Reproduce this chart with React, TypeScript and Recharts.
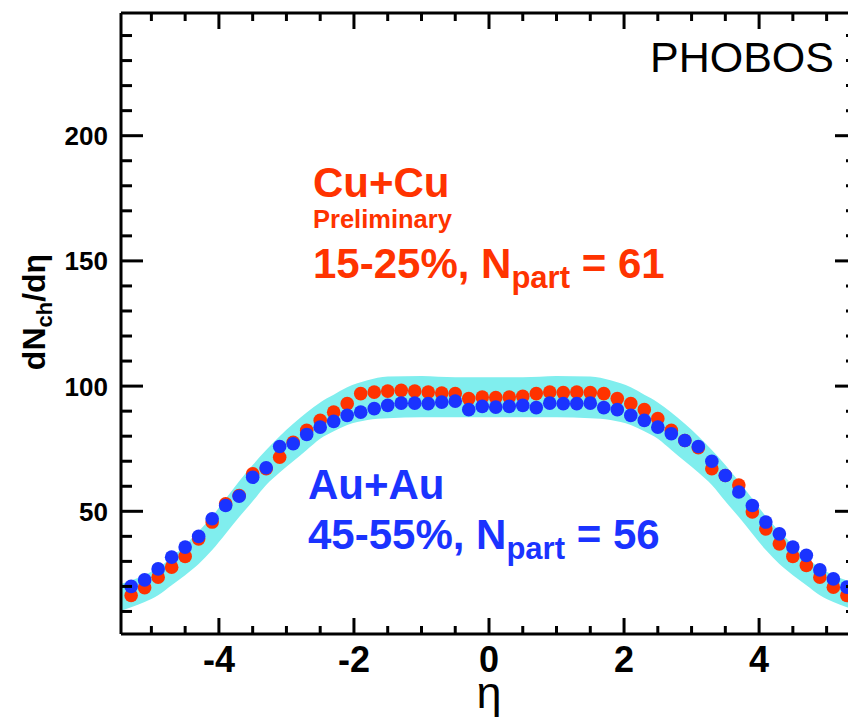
import React from "react";
import { ComposedChart, XAxis, YAxis, Area, Scatter } from "recharts";

const etaValues = [
  -5.3, -5.1, -4.9, -4.7, -4.5, -4.3, -4.1, -3.9, -3.7, -3.5, -3.3, -3.1, -2.9, -2.7,
  -2.5, -2.3, -2.1, -1.9, -1.7, -1.5, -1.3, -1.1, -0.9, -0.7, -0.5, -0.3, -0.1,
  0.1, 0.3, 0.5, 0.7, 0.9, 1.1, 1.3, 1.5, 1.7, 1.9, 2.1, 2.3, 2.5, 2.7, 2.9, 3.1,
  3.3, 3.5, 3.7, 3.9, 4.1, 4.3, 4.5, 4.7, 4.9, 5.1, 5.3,
];

const cuCuValues = [
  16.4, 19.5, 23.7, 27.7, 32, 39, 45.7, 53, 56.3, 65, 67, 71.6, 77.6, 82.3,
  86.3, 89.6, 93, 97, 97.6, 98, 98.3, 98, 97.6, 97.2, 97, 95, 95.6,
  95.4, 95.6, 95.9, 97, 97.6, 97.4, 97.6, 97.4, 97, 95, 93, 90.6, 87, 82.3, 78.3, 75.4,
  67, 64.3, 60.5, 49.7, 43, 37, 32, 28.4, 23.7, 19.7, 16.4,
];

const auAuValues = [
  20, 22.6, 27, 31.7, 35.7, 40, 47, 52.3, 56, 63.6, 67.4, 75.9, 77, 80.7,
  83.6, 85.9, 88.3, 89.6, 91, 92.3, 93.2, 93.2, 93, 93.6, 94, 90.6, 91.9,
  91.6, 91.9, 92.3, 91.4, 93.2, 93, 93, 93.2, 91.4, 90.6, 88.3, 86.3, 83.6, 81, 78.3, 75.9,
  70, 64.3, 57.7, 52.3, 45.7, 41, 35.7, 32.4, 26.6, 23, 19.7,
];

const bandEta = [
  -5.45, -5.3, -5.1, -4.9, -4.7, -4.5, -4.3, -4.1, -3.9, -3.7, -3.5, -3.3, -3.1, -2.9,
  -2.7, -2.5, -2.3, -2.1, -1.8, -1.5, -1.0, -0.5, 0, 0.5, 1.0, 1.5, 1.8, 2.1, 2.3,
  2.5, 2.7, 2.9, 3.1, 3.3, 3.5, 3.7, 3.9, 4.1, 4.3, 4.5, 4.7, 4.9, 5.1, 5.3, 5.45,
];
const bandLow = [
  10.3, 11.7, 13.8, 16.5, 20.5, 24.5, 29, 34.5, 41, 47.7, 54, 60.5, 65.5, 70,
  74.5, 79, 82, 84.5, 86.5, 87.2, 87.6, 87.6, 87.6, 87.6, 87.6, 87.2, 86.5, 84.5, 82,
  79, 74.5, 70, 65.5, 60.5, 54, 47.7, 41, 34.5, 29, 24.5, 20.5, 16.5, 13.8, 11.7, 10.3,
];
const bandHigh = [
  21, 22.4, 24.5, 27.5, 31.5, 36.5, 42, 48, 55, 62, 68.5, 74.5, 80, 85,
  89.5, 93.5, 96.5, 99.5, 102.3, 103.8, 104, 103.5, 103.5, 103.5, 104, 103.8, 102.3, 99.5, 96.5,
  93.5, 89.5, 85, 80, 74.5, 68.5, 62, 55, 48, 42, 36.5, 31.5, 27.5, 24.5, 22.4, 21,
];

const xTicks = [-5, -4.5, -4, -3.5, -3, -2.5, -2, -1.5, -1, -0.5, 0, 0.5, 1, 1.5, 2, 2.5, 3, 3.5, 4, 4.5, 5];
const xTickLabels = [-4, -2, 0, 2, 4];
const yTicks = [10, 20, 30, 40, 50, 60, 70, 80, 90, 100, 110, 120, 130, 140, 150, 160, 170, 180, 190, 200, 210, 220, 230, 240];
const yTickLabels = [50, 100, 150, 200];

const cuData = etaValues.map((e, i) => ({ eta: e, v: cuCuValues[i] }));
const auData = etaValues.map((e, i) => ({ eta: e, v: auAuValues[i] }));
const bandData = bandEta.map((e, i) => ({ eta: e, range: [bandLow[i], bandHigh[i]] }));

const RED = "#ff3300";
const BLUE = "#1a33ff";
const CYAN = "#80eeee";
const FONT = "'Liberation Sans', Arial, sans-serif";

const XTickBottom = (props: any) => {
  const { x, y, payload } = props;
  const v = payload.value;
  const major = xTickLabels.includes(v);
  return (
    <g>
      <line x1={x} x2={x} y1={y} y2={y - (major ? 16 : 8)} stroke="#000" strokeWidth={3} />
      {major && (
        <text x={x} y={y + 38} textAnchor="middle" fontFamily={FONT} fontWeight="bold" fontSize={36} fill="#000">
          {`${v}`}
        </text>
      )}
    </g>
  );
};

const XTickTop = (props: any) => {
  const { x, y, payload } = props;
  const major = xTickLabels.includes(payload.value);
  return <line x1={x} x2={x} y1={y} y2={y + (major ? 16 : 8)} stroke="#000" strokeWidth={3} />;
};

const YTickLeft = (props: any) => {
  const { x, y, payload } = props;
  const v = payload.value;
  const major = yTickLabels.includes(v);
  return (
    <g>
      <line x1={x} x2={x + (major ? 22 : 11)} y1={y} y2={y} stroke="#000" strokeWidth={3} />
      {major && (
        <text x={x - 13} y={y + 9.5} textAnchor="end" fontFamily={FONT} fontWeight="bold" fontSize={26} fill="#000">
          {`${v}`}
        </text>
      )}
    </g>
  );
};

const YTickRight = (props: any) => {
  const { x, y, payload } = props;
  const major = yTickLabels.includes(payload.value);
  return <line x1={x} x2={x - (major ? 22 : 11)} y1={y} y2={y} stroke="#000" strokeWidth={3} />;
};

const makeDot = (color: string) => (props: any) => {
  const { cx, cy } = props;
  return <circle cx={cx} cy={cy} r={6.8} fill={color} />;
};

export default function App() {
  return (
    <div style={{ position: "absolute", left: 0, top: 0, width: 848, height: 718, overflow: "hidden", background: "#fff" }}>
      <ComposedChart width={880} height={718} margin={{ top: 0, right: 0, bottom: 0, left: 0 }}>
        <XAxis
          xAxisId="b"
          dataKey="eta"
          type="number"
          domain={[-5.45, 5.45]}
          allowDataOverflow
          ticks={xTicks}
          interval={0}
          tickSize={0}
          tickMargin={0}
          height={84}
          axisLine={{ stroke: "#000", strokeWidth: 3 }}
          tick={<XTickBottom />}
        />
        <XAxis
          xAxisId="t"
          orientation="top"
          dataKey="eta"
          type="number"
          domain={[-5.45, 5.45]}
          allowDataOverflow
          ticks={xTicks}
          interval={0}
          tickSize={0}
          tickMargin={0}
          height={13}
          axisLine={{ stroke: "#000", strokeWidth: 3 }}
          tick={<XTickTop />}
        />
        <YAxis
          yAxisId="l"
          type="number"
          domain={[1, 249]}
          allowDataOverflow
          ticks={yTicks}
          interval={0}
          tickSize={0}
          tickMargin={0}
          width={121}
          axisLine={{ stroke: "#000", strokeWidth: 3 }}
          tick={<YTickLeft />}
        />
        <YAxis
          yAxisId="r"
          orientation="right"
          type="number"
          domain={[1, 249]}
          allowDataOverflow
          ticks={yTicks}
          interval={0}
          tickSize={0}
          tickMargin={0}
          width={23}
          axisLine={{ stroke: "#000", strokeWidth: 3 }}
          tick={<YTickRight />}
        />
        <Area
          data={bandData}
          dataKey="range"
          xAxisId="b"
          yAxisId="l"
          type="monotone"
          stroke="none"
          fill={CYAN}
          fillOpacity={1}
          isAnimationActive={false}
        />
        <Scatter data={cuData} dataKey="v" xAxisId="b" yAxisId="l" fill={RED} shape={makeDot(RED)} isAnimationActive={false} />
        <Scatter data={auData} dataKey="v" xAxisId="b" yAxisId="l" fill={BLUE} shape={makeDot(BLUE)} isAnimationActive={false} />
      </ComposedChart>
      <svg
        width={848}
        height={718}
        style={{ position: "absolute", left: 0, top: 0, pointerEvents: "none" }}
        fontFamily={FONT}
      >
        <text x={650} y={72} fontSize={43} fill="#000">PHOBOS</text>

        <text x={313} y={197} fontSize={42} fontWeight="bold" fill={RED}>Cu+Cu</text>
        <text x={313} y={228} fontSize={25.5} fontWeight="bold" fill={RED}>Preliminary</text>
        <text x={313} y={278} fontSize={42} fontWeight="bold" fill={RED}>
          15-25%, N
          <tspan fontSize={31} dy={10}>part</tspan>
          <tspan dy={-10}> = 61</tspan>
        </text>

        <text x={308} y={499} fontSize={42} fontWeight="bold" fill={BLUE}>Au+Au</text>
        <text x={308} y={549} fontSize={42} fontWeight="bold" fill={BLUE}>
          45-55%, N
          <tspan fontSize={31} dy={10}>part</tspan>
          <tspan dy={-10}> = 56</tspan>
        </text>

        <text x={489} y={708} fontSize={45} textAnchor="middle" fill="#000">η</text>

        <text transform="translate(45, 312) rotate(-90)" textAnchor="middle" fontSize={32} fontWeight="bold" fill="#000">
          dN
          <tspan fontSize={22} dy={7}>ch</tspan>
          <tspan dy={-7}>/dη</tspan>
        </text>
      </svg>
    </div>
  );
}
